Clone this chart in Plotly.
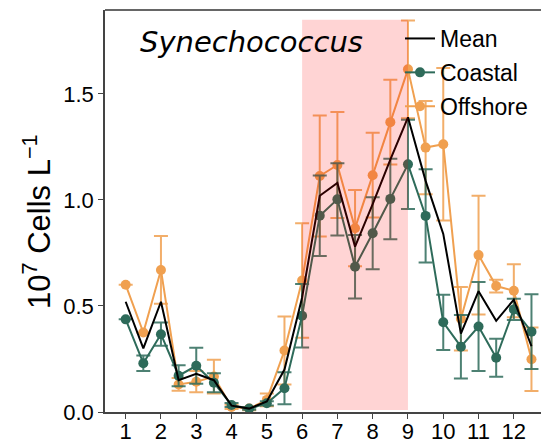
import plotly.graph_objects as go

months = [1, 1.5, 2, 2.5, 3, 3.5, 4, 4.5, 5, 5.5, 6, 6.5, 7, 7.5, 8, 8.5, 9, 9.5, 10, 10.5, 11, 11.5, 12, 12.5]

coastal = [0.437, 0.230, 0.367, 0.171, 0.218, 0.138, 0.033, 0.016, 0.041, 0.112, 0.454, 0.926,
           1.003, 0.685, 0.843, 1.005, 1.168, 0.925, 0.423, 0.308, 0.403, 0.256, 0.484, 0.379]
coastal_err = [0.0, 0.037, 0.055, 0.05, 0.085, 0.045, 0.01, 0.005, 0.01, 0.075, 0.15, 0.19,
               0.17, 0.15, 0.17, 0.19, 0.21, 0.22, 0.13, 0.15, 0.21, 0.09, 0.05, 0.176]

offshore = [0.600, 0.375, 0.670, 0.130, 0.143, 0.167, 0.024, 0.016, 0.057, 0.290, 0.620, 1.113,
            1.165, 0.867, 1.117, 1.367, 1.616, 1.247, 1.263, 0.440, 0.740, 0.594, 0.572, 0.249]
offshore_err = [0.0, 0.0, 0.16, 0.03, 0.05, 0.08, 0.01, 0.008, 0.03, 0.16, 0.27, 0.285,
                0.25, 0.18, 0.2, 0.2, 0.23, 0.22, 0.36, 0.15, 0.28, 0.03, 0.125, 0.15]

mean = [0.52, 0.30, 0.52, 0.15, 0.18, 0.15, 0.03, 0.016, 0.05, 0.20, 0.54, 1.02,
        1.08, 0.78, 0.98, 1.19, 1.39, 1.09, 0.84, 0.37, 0.57, 0.43, 0.53, 0.31]

tick_vals = [1, 2, 3, 4, 5, 6, 7, 8, 9, 10, 11, 12]
tick_text = [str(v) for v in tick_vals]

shade_x = [6, 9]
shade_y = [0.01, 1.85]

GREEN = "#2e6b5a"
ORANGE = "#f0a050"

fig = go.Figure()
fig.add_trace(go.Scatter(
    x=months, y=offshore, name="Offshore", mode="lines+markers", legendgroup="c", legendrank=3,
    line=dict(color=ORANGE, width=2), marker=dict(color=ORANGE, size=10),
    error_y=dict(type="data", array=offshore_err, visible=True, color="rgba(240,160,80,0.85)",
                 thickness=2, width=7)))
fig.add_trace(go.Scatter(
    x=months, y=coastal, name="Coastal", mode="lines+markers", legendgroup="b", legendrank=2,
    line=dict(color=GREEN, width=2), marker=dict(color=GREEN, size=10),
    error_y=dict(type="data", array=coastal_err, visible=True, color="rgba(46,107,90,0.85)",
                 thickness=2, width=7)))
fig.add_trace(go.Scatter(
    x=months, y=mean, name="Mean", mode="lines", legendgroup="a", legendrank=1,
    line=dict(color="black", width=2)))

fig.add_shape(type="rect", xref="x", yref="y", x0=shade_x[0], x1=shade_x[1],
              y0=shade_y[0], y1=shade_y[1], fillcolor="rgba(255,0,0,0.17)",
              line=dict(width=0), layer="above")
fig.add_shape(type="line", xref="paper", yref="paper", x0=0, x1=1, y0=1, y1=1,
              line=dict(color="#333333", width=1.5))

fig.add_annotation(text="<i>Synechococcus</i>", xref="paper", yref="paper",
                   x=(251 - 105) / 436, y=(412 - 42) / 402, xanchor="center", yanchor="middle",
                   showarrow=False, font=dict(family="DejaVu Sans", size=29, color="black"))

fig.add_annotation(text="10<sup>7</sup> Cells L<sup>\u22121</sup>", xref="paper", yref="paper",
                   x=(37 - 105) / 436, y=(412 - 222) / 402, xanchor="center", yanchor="middle",
                   textangle=-90, showarrow=False,
                   font=dict(family="Liberation Sans, Arial", size=31, color="black"))

fig.update_layout(
    width=541, height=443,
    margin=dict(l=105, r=0, t=10, b=31),
    plot_bgcolor="white", paper_bgcolor="white",
    font=dict(family="Liberation Sans, Arial", size=22, color="black"),
    showlegend=True,
    legend=dict(x=(400 - 105) / 436, y=(412 - 17) / 402, xanchor="left", yanchor="top",
                bgcolor="rgba(0,0,0,0)", traceorder="grouped", tracegroupgap=1,
                font=dict(size=23, family="Liberation Sans, Arial")),
    xaxis=dict(range=[0.414, 12.77], tickvals=tick_vals, ticktext=tick_text, automargin=False,
               showgrid=False, zeroline=False, showline=True, linecolor="#444444", linewidth=1.5,
               ticks="outside", ticklen=5, tickcolor="#444444", tickfont=dict(size=22),
               ticklabelstandoff=-6),
    yaxis=dict(range=[0, 1.896], tickvals=[0, 0.5, 1.0, 1.5], ticktext=["0.0", "0.5", "1.0", "1.5"],
               automargin=False,
               showgrid=False, zeroline=False, showline=True, linecolor="#444444", linewidth=1.5,
               ticks="outside", ticklen=5, tickcolor="#444444", tickfont=dict(size=22)),
)

fig.write_html("out.html")
